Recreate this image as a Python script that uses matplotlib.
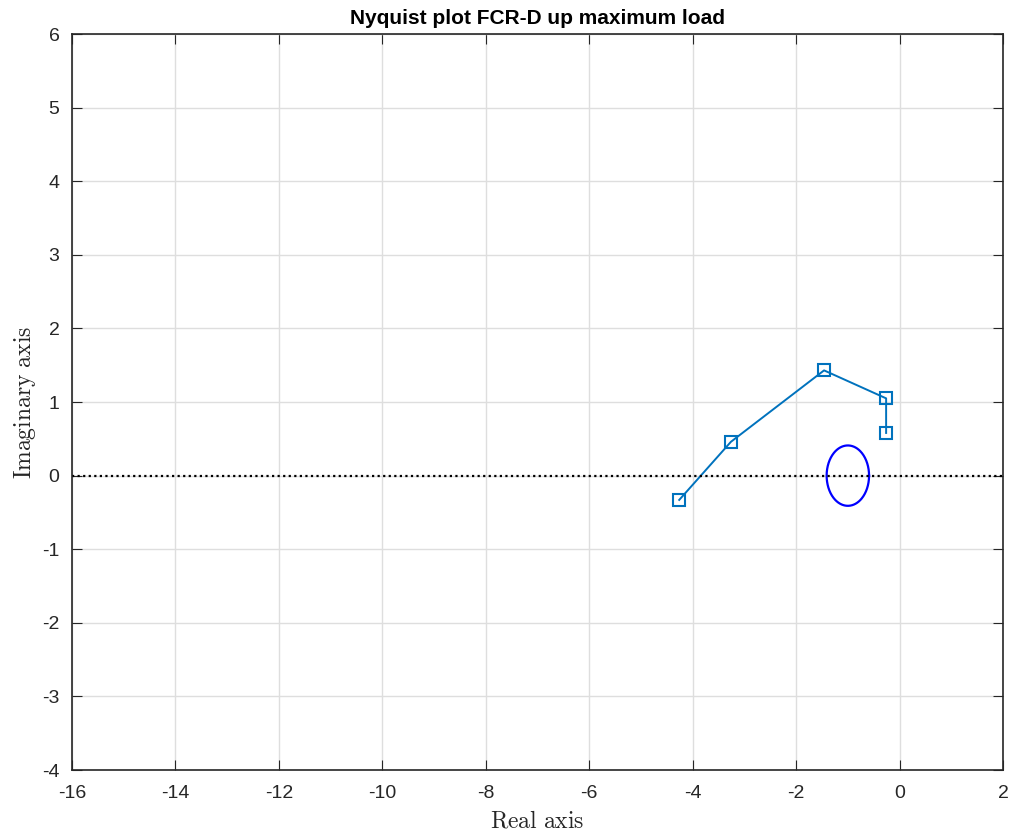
import numpy as np
import matplotlib
matplotlib.use("Agg")
import matplotlib.pyplot as plt

# Nyquist points of the open loop at the test frequencies
re_pts = [-4.26, -3.26, -1.46, -0.26, -0.26]
im_pts = [-0.33, 0.46, 1.43, 1.05, 0.58]

# stability margin circle round the critical point
circ_center = -1.0
circ_radius = 0.41

x_ticks = [-16, -14, -12, -10, -8, -6, -4, -2, 0, 2]
y_ticks = [-4, -3, -2, -1, 0, 1, 2, 3, 4, 5, 6]

plt.rcParams['font.family'] = ['Liberation Sans', 'DejaVu Sans']
plt.rcParams['mathtext.fontset'] = 'cm'
plt.rcParams['axes.unicode_minus'] = False

fig = plt.figure(figsize=(10.15, 8.36), dpi=100)
ax = fig.add_axes([0.0709, 0.0789, 0.9173, 0.8804])

ax.plot(re_pts, im_pts, color="#0072BD", lw=1.4, marker="s", ms=8,
        mfc="none", mew=1.5)

t = np.linspace(0, 2 * np.pi, 300)
ax.plot(circ_center + circ_radius * np.cos(t), circ_radius * np.sin(t),
        color="blue", lw=1.6)

ax.axhline(0, color="black", ls=(0, (1, 1.5)), lw=1.6)

ax.set_xlim(-16, 2)
ax.set_ylim(-4, 6)
ax.set_xticks(x_ticks)
ax.set_yticks(y_ticks)
ax.grid(True, color="#dedede", lw=1)
ax.set_axisbelow(True)
ax.tick_params(direction="in", top=True, right=True, length=7,
               labelsize=14, color="#262626", labelcolor="#262626")
ax.tick_params(axis="x", pad=11)
ax.tick_params(axis="y", pad=9)
for s in ax.spines.values():
    s.set_color("#262626")
    s.set_linewidth(1.2)

ax.set_xlabel(r"$\mathrm{Real\ axis}$", fontsize=17, color="#262626", labelpad=6)
ax.set_ylabel(r"$\mathrm{Imaginary\ axis}$", fontsize=17, color="#262626", labelpad=3)
ax.set_title("Nyquist plot FCR-D up maximum load", fontsize=15, fontweight="bold", pad=7)

fig.savefig("out.png", dpi=100)
